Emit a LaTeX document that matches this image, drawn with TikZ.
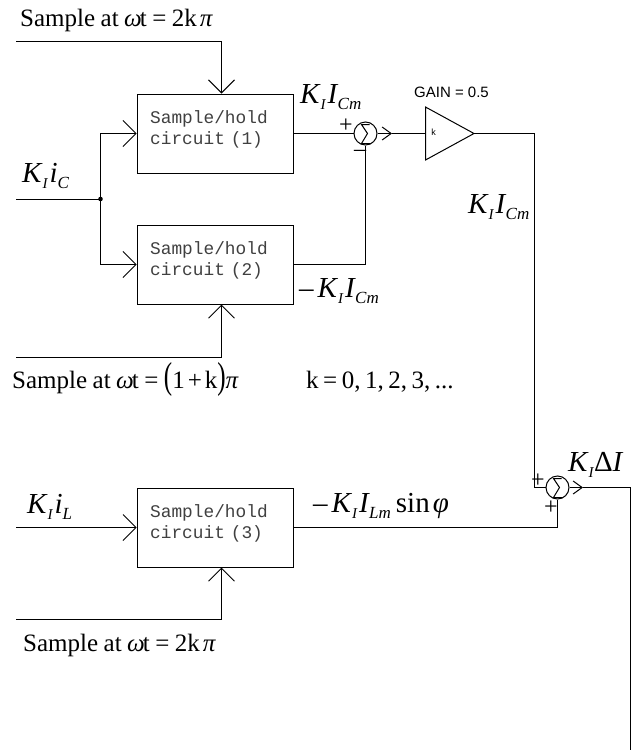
\documentclass[tikz,border=0pt]{standalone}
\usepackage{fontspec}
\setmainfont{Liberation Serif}
\setmonofont{Liberation Mono}
\setsansfont{Liberation Sans}
\usetikzlibrary{arrows.meta,calc}
\newcommand{\sz}[1]{\fontsize{#1}{#1}\selectfont}
\newcommand{\lowsub}[1]{\raisebox{-6pt}{\sz{17}\itshape #1}}
\newcommand{\lowI}{\raisebox{-6pt}{\sz{15}\itshape I}}
\newcommand{\KI}{{\itshape K}\hspace{1pt}\lowI\hspace{2pt}}
\newcommand{\ICm}{{\itshape I}\hspace{0.5pt}\lowsub{Cm}}
\newcommand{\SampleAt}{Sample\hspace{5.5pt}at\hspace{5.5pt}{\itshape ω}\hspace{-2pt}t\hspace{5.5pt}=\hspace{5.5pt}2k\hspace{3pt}{\itshape π}}
\tikzset{
  wire/.style={line width=1pt,line join=miter},
  inarrow/.style={wire,-{Straight Barb[length=13pt,width=26pt,line width=1pt]}},
  outarrow/.style={wire,-{Straight Barb[length=9pt,width=13pt,line width=1pt]}},
  holdbox/.style={draw,text=black!75,line width=1pt,minimum height=79pt,text width=130pt,inner xsep=13pt,inner ysep=0pt,align=left,font=\ttfamily\fontsize{17.8}{20.4}\selectfont},
  sumnode/.style={circle,draw,line width=1pt,minimum size=23pt,inner sep=0pt},
  amp/.style={draw,line width=1pt,line join=miter},
  lab/.style={anchor=base west,inner sep=0pt,font=\sz{29}},
  txt/.style={anchor=base west,inner sep=0pt,font=\sz{25}},
  sign/.style={inner sep=0pt,font=\sz{24}}
}
\newcommand{\sumglyph}[1]{\draw[line width=1pt] ($(#1)+(4,-9)$) -- ($(#1)+(-4,-9)$) -- ($(#1)+(2,0)$) -- ($(#1)+(-4,10)$) -- ($(#1)+(5,10)$);}
\begin{document}
\begin{tikzpicture}[x=1pt,y=-1pt]
\useasboundingbox (0,0) rectangle (636,750);
% boxes
\node[holdbox] (b1) at (215.2,133.5) {Sample/hold\\circuit (1)\rule[-12pt]{0pt}{12pt}};
\node[holdbox] (b2) at (215.2,264.5) {Sample/hold\\circuit (2)\rule[-12pt]{0pt}{12pt}};
\node[holdbox] (b3) at (215.2,527.5) {Sample/hold\\circuit (3)\rule[-12pt]{0pt}{12pt}};
\node[sumnode] (s1) at (365.5,133.5) {};
\node[sumnode] (s2) at (557.5,487.5) {};
\sumglyph{s1}
\sumglyph{s2}
% amplifier
\coordinate (a1) at (425.5,107);
\coordinate (a2) at (425.5,160);
\coordinate (a3) at (474,133.5);
\coordinate (ain) at (425.5,133.5);
\draw[amp] (a1) -- (a3) -- (a2) -- cycle;
\node[inner sep=0pt,font=\sffamily\sz{9}] (kk) at (433.5,132.5) {k};
% free ends and corners
\coordinate (in1) at (16,199);
\coordinate (j1) at (100.5,199);
\coordinate (st1) at (16,41.5);
\coordinate (st1t) at (221.5,93.5);
\coordinate (st2) at (16,357);
\coordinate (st2t) at (221.5,304.5);
\coordinate (in3) at (16,527.5);
\coordinate (st3) at (16,619);
\coordinate (st3t) at (221.5,567.5);
\coordinate (m1) at (392,133.5);
\coordinate (m2) at (583,487.5);
\coordinate (c1) at (534,133.5);
\coordinate (c2) at (630.5,487.5);
\coordinate (endout) at (630.5,750);
% connectors
\draw[wire] (in1) -- (j1);
\fill (j1) circle (2.3);
\draw[inarrow] (j1) |- (b1.west);
\draw[inarrow] (j1) |- (b2.west);
\draw[inarrow] (in3) -- (b3.west);
\draw[inarrow] (st1) -| (st1t);
\draw[inarrow] (st2) -| (st2t);
\draw[inarrow] (st3) -| (st3t);
\draw[wire] (b1.east) -- (s1.west);
\draw[wire] (b2.east) -| (s1.south);
\draw[outarrow] (s1.east) -- (m1);
\draw[wire] (m1) -- (ain);
\draw[wire] (a3) -- (c1) |- (s2.west);
\draw[wire] (b3.east) -| (s2.south);
\draw[outarrow] (s2.east) -- (m2);
\draw[wire] (m2) -- (c2) -- (endout);
% signs
\node[sign] (p1) at (346,126) {+};
\node[sign] (n1) at (360,153) {–};
\node[sign] (p2) at (538,481) {+};
\node[sign] (p3) at (551,508) {+};
% labels
\node[txt] (t1) at (20,26) {\SampleAt};
\node[txt] (t2) at (12,388) {Sample\hspace{5.5pt}at\hspace{5.5pt}{\itshape ω}\hspace{-2pt}t\hspace{5.5pt}=\hspace{5.5pt}\scalebox{1}[1.5]{(}1\hspace{3pt}+\hspace{3pt}k\scalebox{1}[1.5]{)}{\itshape π}};
\node[txt] (t3) at (306,388) {k\hspace{4.5pt}=\hspace{4.5pt}0,\hspace{4.5pt}1,\hspace{4.5pt}2,\hspace{4.5pt}3,\hspace{4.5pt}...};
\node[txt] (t4) at (23,651) {\SampleAt};
\node[lab] (l1) at (300,103) {\KI\ICm};
\node[lab] (l2) at (299,297) {–\hspace{4pt}\KI\ICm};
\node[lab] (l3) at (468,213) {\KI\ICm};
\node[lab] (l4) at (22,182) {\KI{\itshape i}\lowsub{C}};
\node[lab] (l5) at (27,513) {\KI{\itshape i}\lowsub{L}};
\node[lab] (l6) at (313,512) {–\hspace{4pt}\KI{\itshape I}\hspace{0.5pt}\lowsub{Lm}\hspace{5pt}sin\hspace{3pt}{\itshape φ}};
\node[lab] (l7) at (568,471) {\KI\hspace{-1.5pt}Δ{\itshape I}};
\node[anchor=base west,inner sep=0pt,font=\sffamily\sz{15}] (g) at (414,97) {GAIN = 0.5};
\end{tikzpicture}
\end{document}
